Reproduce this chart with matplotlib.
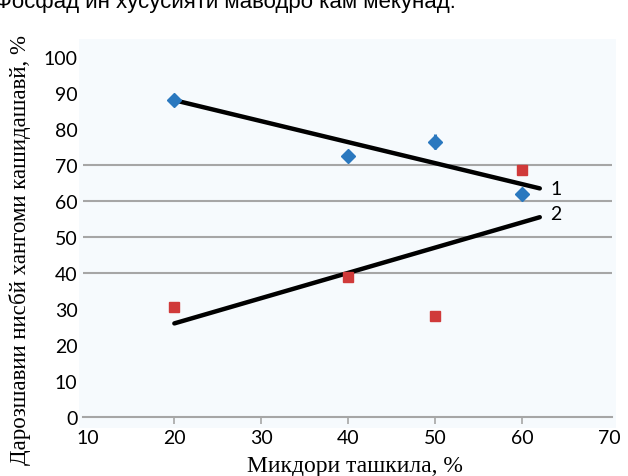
import matplotlib
matplotlib.use("Agg")
import matplotlib.pyplot as plt
from matplotlib.patches import Rectangle

# Data
x_vals = [20, 40, 50, 60]
series1 = [88, 72.5, 76.5, 62]
series1_err = [1.5, 1.5, 2.0, 1.0]
series2 = [30.5, 39, 28, 68.5]
trend1_x = [20, 62]
trend1_y = [88, 63.5]
trend2_x = [20, 62]
trend2_y = [26, 55.5]
x_ticks = [10, 20, 30, 40, 50, 60, 70]
y_ticks = [0, 10, 20, 30, 40, 50, 60, 70, 80, 90, 100]
grid_levels = [40, 50, 60, 70]
xlabel = "Микдори ташкила, %"
ylabel = "Дарозшавии нисбй хангоми кашидашавй, %"
top_text = "Фосфад ин хусусияти маводро кам мекунад."

W, H = 628, 477
fig = plt.figure(figsize=(W / 100, H / 100), dpi=100)
fig.patch.set_facecolor("white")

ax = fig.add_axes([83 / W, 1 - 418 / H, (612 - 83) / W, (418 - 58) / H])
ax.set_facecolor("none")
ax.set_xlim(9.5, 70.3)
ax.set_ylim(0, 100)

# faint background panel
bg = Rectangle((79 / W, 1 - 429 / H), (616 - 79) / W, (429 - 40) / H,
               transform=fig.transFigure, facecolor="#f6fafd",
               edgecolor="none", zorder=-10)
fig.add_artist(bg)
ax.set_zorder(1)

for g in grid_levels:
    ax.axhline(g, color="#a6a6a6", lw=1.5, zorder=1)

for s in ["top", "right", "left"]:
    ax.spines[s].set_visible(False)
ax.spines["bottom"].set_color("#a6a6a6")
ax.spines["bottom"].set_linewidth(1.5)

ax.set_xticks(x_ticks)
ax.set_xticklabels([str(t) for t in x_ticks], fontsize=14, family="Lato")
ax.set_yticks(y_ticks)
ax.set_yticklabels([str(t) for t in y_ticks], fontsize=14, family="Lato")
ax.tick_params(axis="y", length=0, pad=4)
ax.tick_params(axis="x", length=5, width=1.2, color="#a6a6a6", pad=4)
for t, lab in zip(ax.xaxis.get_major_ticks(), x_ticks):
    if lab in (10, 70):
        t.tick1line.set_visible(False)

ax.plot(trend1_x, trend1_y, color="black", lw=3.2, zorder=3, solid_capstyle="round")
ax.plot(trend2_x, trend2_y, color="black", lw=3.2, zorder=3, solid_capstyle="round")

ax.errorbar(x_vals, series1, yerr=series1_err, fmt="D", color="#2a78bf",
            markersize=7.5, elinewidth=2.2, capsize=0, zorder=4)
ax.plot(x_vals, series2, "s", color="#d03a3a", markersize=7.5, zorder=4)

ax.text(trend1_x[-1] + 1.2, trend1_y[-1], "1", fontsize=14, family="Lato",
        va="center", ha="left")
ax.text(trend2_x[-1] + 1.2, trend2_y[-1] + 1, "2", fontsize=14, family="Lato",
        va="center", ha="left")

ax.set_xlabel(xlabel, fontsize=17, family="Liberation Serif")
ax.xaxis.set_label_coords(0.515, -0.105)

fig.text(20 / W, 1 - 250 / H, ylabel, fontsize=16.5, family="Liberation Serif",
         rotation=90, ha="center", va="center")

fig.text(-0.008, 1 - 8 / H, top_text, fontsize=16, family="Liberation Sans",
         va="baseline", ha="left")

fig.savefig("out.png", dpi=100)
